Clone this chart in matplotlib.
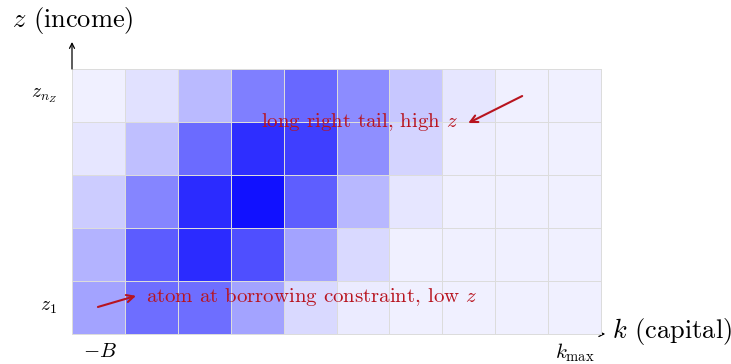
import numpy as np
import matplotlib
matplotlib.use("Agg")
import matplotlib.pyplot as plt
from matplotlib.colors import LinearSegmentedColormap

plt.rcParams['mathtext.fontset'] = 'cm'
plt.rcParams['font.family'] = ['cmr10', 'DejaVu Serif']
plt.rcParams['axes.unicode_minus'] = False

# Stationary density over (k, z): rows from z_1 (bottom) to z_{n_Z} (top),
# columns from -B to k_max.
density_z1 = [0.36, 0.57, 0.57, 0.36, 0.15, 0.08, 0.06, 0.06, 0.06, 0.06]
density_z2 = [0.30, 0.64, 0.83, 0.69, 0.36, 0.15, 0.06, 0.06, 0.06, 0.06]
density_z3 = [0.20, 0.48, 0.83, 0.93, 0.63, 0.28, 0.10, 0.06, 0.06, 0.06]
density_z4 = [0.10, 0.25, 0.58, 0.82, 0.75, 0.44, 0.17, 0.07, 0.06, 0.06]
density_z5 = [0.06, 0.12, 0.27, 0.50, 0.59, 0.45, 0.22, 0.10, 0.06, 0.06]

density = np.array([density_z1, density_z2, density_z3, density_z4, density_z5])
n_z, n_k = density.shape

red = '#b8141f'

fig = plt.figure(figsize=(7.31, 3.64), dpi=100)
W, H = 731, 364
x0, x1, y0, y1 = 72, 601, 69, 334
ax = fig.add_axes([x0 / W, (H - y1) / H, (x1 - x0) / W, (y1 - y0) / H])
ax.set_xlim(0, n_k)
ax.set_ylim(0, n_z)
ax.axis('off')

cmap = LinearSegmentedColormap.from_list('wb', ['#ffffff', '#0000ff'])
ax.pcolormesh(np.arange(n_k + 1), np.arange(n_z + 1), density,
              cmap=cmap, vmin=0, vmax=1,
              edgecolors='#dcdcdc', linewidth=0.6, zorder=2, clip_on=False)

# coordinate axes: only the arrow tips stick out beyond the grid
arrow_kw = dict(arrowstyle='->', color='black', lw=0.9, mutation_scale=9,
                shrinkA=0, shrinkB=0)
ax.annotate('', xy=(0, 5.51), xytext=(0, n_z), arrowprops=arrow_kw,
            annotation_clip=False, zorder=3)
ax.annotate('', xy=(10.08, 0), xytext=(9.9, 0), arrowprops=arrow_kw,
            annotation_clip=False, zorder=1)

ax.text(-1.14, 5.92, r'$z$ (income)', fontsize=19, ha='left', va='center')
ax.text(10.2, 0.04, r'$k$ (capital)', fontsize=19, ha='left', va='center')

ax.text(-0.28, 4.5, r'$z_{n_Z}$', fontsize=14, ha='right', va='center')
ax.text(-0.28, 0.5, r'$z_1$', fontsize=14, ha='right', va='center')
ax.text(0.53, -0.34, r'$-B$', fontsize=15, ha='center', va='center')
ax.text(9.51, -0.36, r'$k_{\max}$', fontsize=15, ha='center', va='center')

red_arrow = dict(arrowstyle='->', color=red, lw=1.5, mutation_scale=13,
                 shrinkA=0, shrinkB=0)
ax.text(5.44, 4.0, r'long right tail, high $z$', fontsize=15, color=red,
        ha='center', va='center', zorder=5)
ax.annotate('', xy=(7.49, 3.98), xytext=(8.51, 4.49), arrowprops=red_arrow,
            zorder=5)
ax.text(1.40, 0.70, r'atom at borrowing constraint, low $z$', fontsize=15,
        color=red, ha='left', va='center', zorder=5)
ax.annotate('', xy=(1.21, 0.72), xytext=(0.49, 0.51), arrowprops=red_arrow,
            zorder=5)

fig.savefig('out.png', dpi=100)
